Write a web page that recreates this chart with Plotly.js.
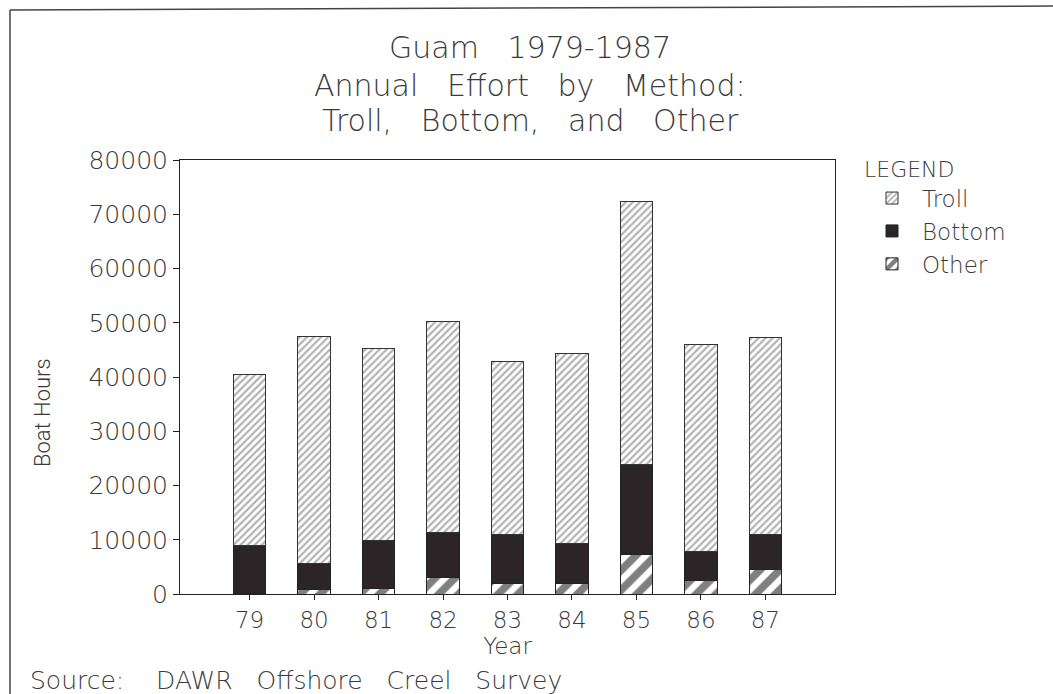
<!DOCTYPE html>
<html>
<head>
<meta charset="utf-8">
<script src="https://cdn.plot.ly/plotly-3.0.1.min.js"></script>
<style>html,body{margin:0;padding:0;background:#fff;}#chart{width:1053px;height:694px;}</style>
</head>
<body>
<div id="chart"></div>
<script>
const years = ["79", "80", "81", "82", "83", "84", "85", "86", "87"];
const other = [150, 800, 1000, 3000, 2000, 2000, 7300, 2400, 4500];
const bottom = [8750, 4900, 8800, 8400, 8900, 7400, 16500, 5400, 6400];
const troll = [31600, 41800, 35400, 38900, 32000, 35000, 48600, 38100, 36400];
const yTicks = [0, 10000, 20000, 30000, 40000, 50000, 60000, 70000, 80000];
const titleLines = ["Guam   1979-1987", "Annual   Effort   by   Method:", "Troll,   Bottom,   and   Other"];

const W = 1053, H = 694;
const L = 180, R = 835, T = 160, B = 594;
const px = x => (x - L) / (R - L);
const py = y => (B - y) / (B - T);

const textColor = '#3a3a3a';
const font = 'DejaVu Sans, sans-serif';
const wt = 200;

const traces = [
  {
    type: 'bar', name: 'Other', x: years, y: other, width: 0.5,
    marker: {color: '#ffffff', line: {color: '#222', width: 1},
      pattern: {shape: '/', size: 14, solidity: 0.55, fgcolor: '#000000', bgcolor: '#ffffff', fillmode: 'overlay'}}
  },
  {
    type: 'bar', name: 'Bottom', x: years, y: bottom, width: 0.5,
    marker: {color: '#2b2527', line: {color: '#222', width: 1}}
  },
  {
    type: 'bar', name: 'Troll', x: years, y: troll, width: 0.5,
    marker: {color: '#ffffff', line: {color: '#333', width: 1},
      pattern: {shape: '/', size: 5, solidity: 0.45, fgcolor: '#666666', bgcolor: '#ffffff', fillmode: 'overlay'}}
  }
];

const titleY = [47, 85, 121];
const annotations = titleLines.map((t, i) => ({
  text: t, xref: 'paper', yref: 'paper', x: px(530), y: py(titleY[i]),
  xanchor: 'center', yanchor: 'middle', showarrow: false,
  font: {family: font, size: 30, weight: wt, color: textColor}
}));
annotations.push({
  text: 'Source:    DAWR   Offshore   Creel   Survey',
  xref: 'paper', yref: 'paper', x: px(28), y: py(680),
  xanchor: 'left', yanchor: 'middle', showarrow: false,
  font: {family: font, size: 25, weight: wt, color: textColor}
});
annotations.push({
  text: 'Boat Hours',
  xref: 'paper', yref: 'paper', x: px(42), y: py(413),
  xanchor: 'center', yanchor: 'middle', showarrow: false, textangle: -90,
  font: {family: 'Roboto, sans-serif', size: 22, weight: 300, color: textColor}
});

const layout = {
  width: W, height: H,
  barmode: 'stack',
  paper_bgcolor: '#ffffff', plot_bgcolor: '#ffffff',
  margin: {l: L, r: W - R, t: T, b: H - B, pad: 0},
  font: {family: font, color: textColor},
  xaxis: {
    type: 'category', range: [-1.08, 9.08],
    showline: true, linecolor: '#222', linewidth: 1, mirror: true,
    ticks: 'outside', ticklen: 5, tickcolor: '#222',
    tickfont: {family: font, size: 23, weight: wt, color: textColor},
    showgrid: false, zeroline: false,
    title: {text: 'Year', font: {family: font, size: 23, weight: wt, color: textColor}, standoff: 0}
  },
  yaxis: {
    range: [0, 80000], tickvals: yTicks,
    ticktext: yTicks.map(v => String(v)),
    showline: true, linecolor: '#222', linewidth: 1, mirror: true,
    ticks: 'outside', ticklen: 6, tickcolor: '#222',
    tickfont: {family: font, size: 25, weight: wt, color: textColor},
    showgrid: false, zeroline: false
  },
  legend: {
    x: px(862), y: py(148), xanchor: 'left', yanchor: 'top',
    traceorder: 'reversed',
    font: {family: font, size: 23, weight: wt, color: textColor},
    title: {text: 'LEGEND', font: {family: font, size: 22, weight: wt, color: textColor}},
    itemwidth: 50, tracegroupgap: 0,
    bgcolor: 'rgba(0,0,0,0)', borderwidth: 0
  },
  annotations: annotations,
  shapes: [
    {type: 'line', xref: 'paper', yref: 'paper', x0: px(10), x1: px(10), y0: py(720), y1: py(10),
     line: {color: '#444', width: 1.5}},
    {type: 'line', xref: 'paper', yref: 'paper', x0: px(10), x1: px(1060), y0: py(10), y1: py(6),
     line: {color: '#444', width: 1.5}}
  ],
  showlegend: true
};

Plotly.newPlot('chart', traces, layout, {displayModeBar: false, staticPlot: true});
</script>
</body>
</html>
